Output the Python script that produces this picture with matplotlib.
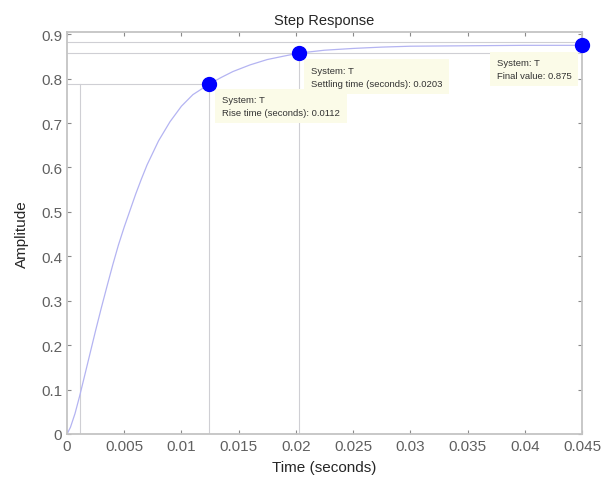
import matplotlib.pyplot as plt
import numpy as np

plt.rcParams['font.family'] = ['Liberation Sans', 'DejaVu Sans']

# step response
t = [0.0, 0.0003, 0.0007, 0.0011, 0.0015, 0.002, 0.0025, 0.003, 0.0035, 0.004,
     0.0045, 0.005, 0.0055, 0.006, 0.0065, 0.007, 0.0075, 0.008, 0.009, 0.01,
     0.011, 0.01241, 0.0135, 0.0145, 0.016, 0.0175, 0.019, 0.02027, 0.0225,
     0.025, 0.0275, 0.03, 0.035, 0.04, 0.045]
amp = [0.0, 0.015, 0.046, 0.085, 0.127, 0.18, 0.233, 0.284, 0.333, 0.381,
       0.426, 0.466, 0.503, 0.54, 0.574, 0.606, 0.633, 0.66, 0.703, 0.738,
       0.764, 0.7875, 0.803, 0.816, 0.831, 0.843, 0.851, 0.8575, 0.864,
       0.868, 0.871, 0.873, 0.874, 0.875, 0.875]

rise_start = 0.00114
rise_t, rise_y = 0.01241, 0.7875
settle_t, settle_y = 0.02027, 0.8575
band_hi = 0.882
final_t, final_y = 0.045, 0.875

xticks = np.arange(0, 0.0451, 0.005)
xticklabels = ['0', '0.005', '0.01', '0.015', '0.02', '0.025', '0.03', '0.035', '0.04', '0.045']
yticks = np.arange(0, 0.91, 0.1)
yticklabels = ['0', '0.1', '0.2', '0.3', '0.4', '0.5', '0.6', '0.7', '0.8', '0.9']

fig = plt.figure(figsize=(6.03, 4.85), dpi=100)
ax = fig.add_axes([67/603, 50/485, 515/603, 402/485])

grey = '#cfcfd4'
# characteristic lines
ax.plot([0, rise_t], [rise_y, rise_y], color=grey, lw=0.8)
ax.plot([rise_start, rise_start], [0, rise_y], color=grey, lw=0.8)
ax.plot([rise_t, rise_t], [0, rise_y], color=grey, lw=0.8)
ax.plot([settle_t, settle_t], [0, settle_y], color=grey, lw=0.8)
ax.axhline(settle_y, color=grey, lw=0.8)
ax.axhline(band_hi, color=grey, lw=0.8)

ax.plot(t, amp, color='#b4b4f2', lw=0.9)

for xx, yy in [(rise_t, rise_y), (settle_t, settle_y), (final_t, final_y)]:
    ax.plot(xx, yy, 'o', color='#0000ff', markersize=10, clip_on=False, zorder=5)

box = dict(boxstyle='square,pad=0.7', fc='#fbfbe8', ec='none')
ax.annotate('System: T\nRise time (seconds): 0.0112', xy=(rise_t, rise_y),
            xytext=(13, -11), textcoords='offset pixels', ha='left', va='top',
            fontsize=6.8, linespacing=1.5, color='#333333', bbox=box)
ax.annotate('System: T\nSettling time (seconds): 0.0203', xy=(settle_t, settle_y),
            xytext=(12, -13), textcoords='offset pixels', ha='left', va='top',
            fontsize=6.8, linespacing=1.5, color='#333333', bbox=box)
ax.annotate('System: T\nFinal value: 0.875', xy=(final_t, final_y),
            xytext=(-85, -13), textcoords='offset pixels', ha='left', va='top',
            fontsize=6.8, linespacing=1.5, color='#333333', bbox=box)

ax.set_xlim(0, 0.045)
ax.set_ylim(0, 0.905)
ax.set_xticks(xticks)
ax.set_xticklabels(xticklabels)
ax.set_yticks(yticks)
ax.set_yticklabels(yticklabels)
ax.tick_params(direction='in', length=3, width=0.8, colors='#8a8a8a',
               labelcolor='#606060', labelsize=11, top=True, right=True)
for s in ax.spines.values():
    s.set_color('#c4c4c4')
    s.set_linewidth(1.3)

ax.set_title('Step Response', fontsize=10.5, color='#262626', pad=6)
ax.set_xlabel('Time (seconds)', fontsize=11, color='#262626', labelpad=5)
ax.set_ylabel('Amplitude', fontsize=11, color='#262626', labelpad=9)

fig.savefig('out.png', dpi=100)
